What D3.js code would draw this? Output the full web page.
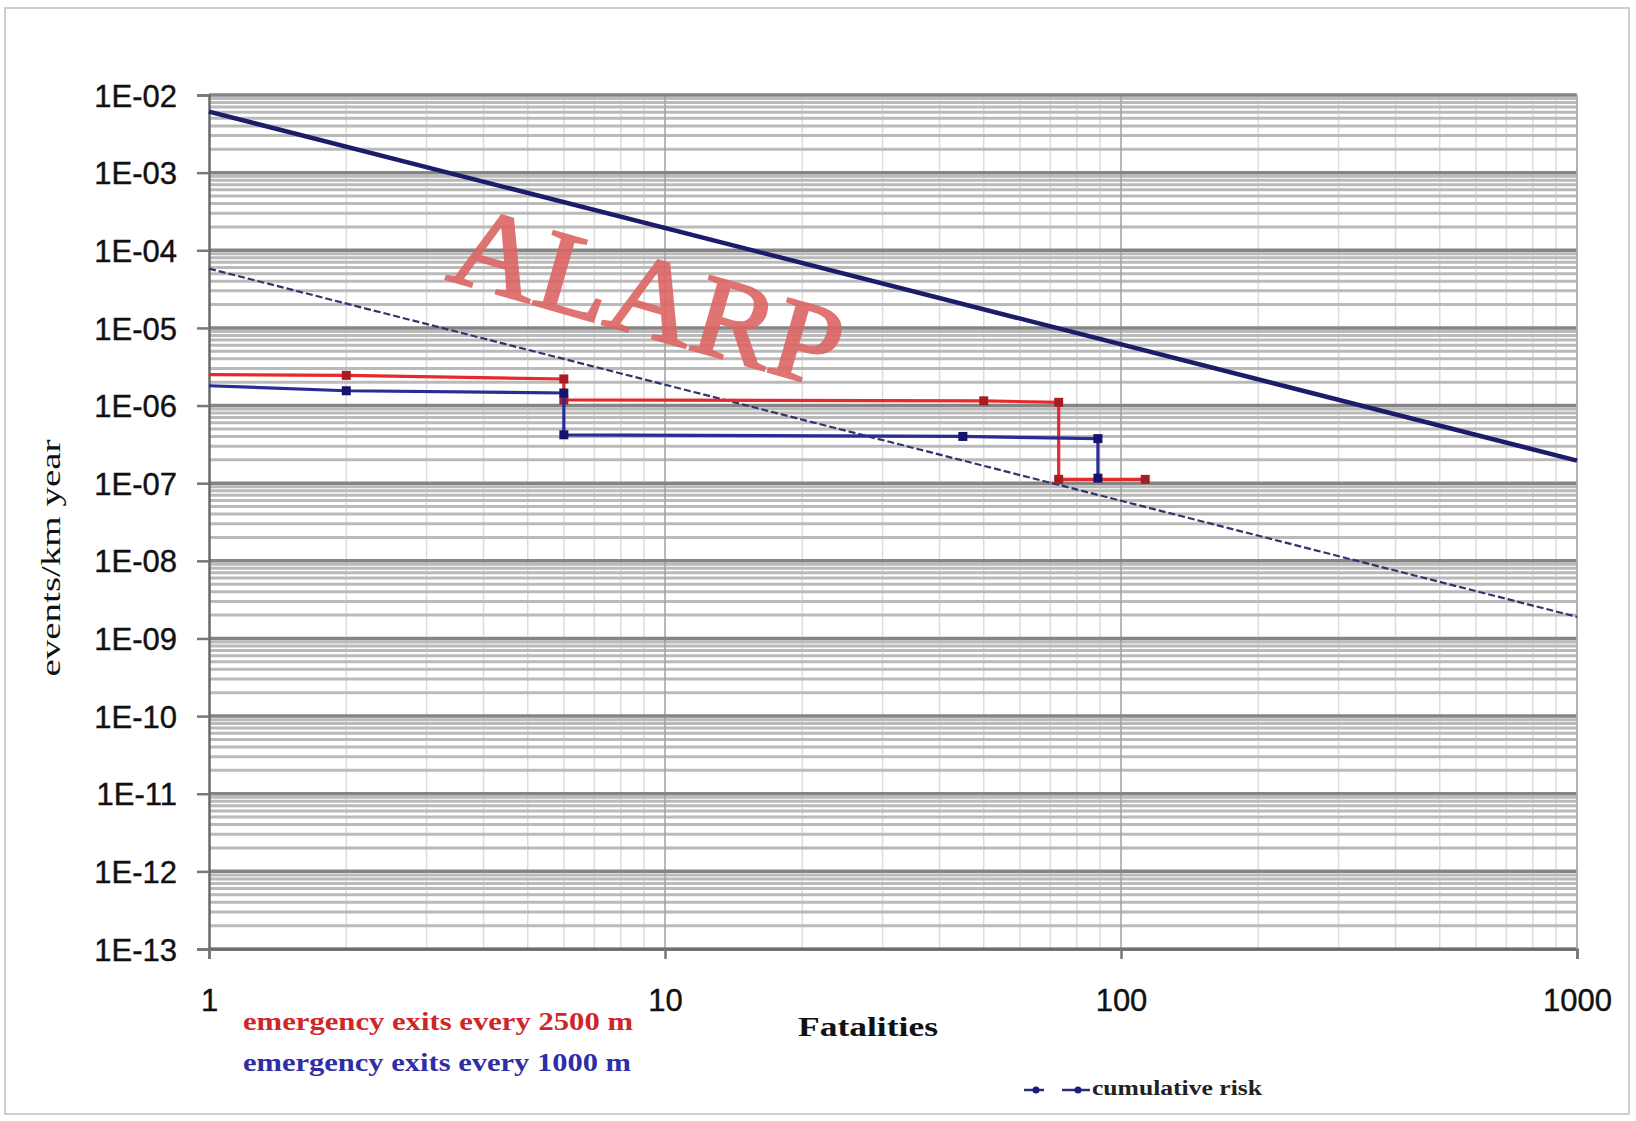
<!DOCTYPE html>
<html>
<head>
<meta charset="utf-8">
<script src="https://cdn.jsdelivr.net/npm/d3@7"></script>
<style>
body { margin: 0; background: #fff; }
svg { display: block; }
</style>
</head>
<body>
<div id="grafika"></div>
<script>
// values
const xTicks = [1, 10, 100, 1000];
const yTicks = [1e-2, 1e-3, 1e-4, 1e-5, 1e-6, 1e-7, 1e-8, 1e-9, 1e-10, 1e-11, 1e-12, 1e-13];
const yTickLabels = ["1E-02", "1E-03", "1E-04", "1E-05", "1E-06", "1E-07", "1E-08",
                     "1E-09", "1E-10", "1E-11", "1E-12", "1E-13"];

// ALARP limits (end points)
const upperN = [1, 1000];
const upperF = [6.1e-3, 1.95e-7];
const lowerN = [1, 1000];
const lowerF = [5.8e-5, 1.9e-9];

// emergency exits every 2500 m
const exits2500N = [1, 2, 6, 6, 50, 73, 73, 113];
const exits2500F = [2.5e-6, 2.45e-6, 2.2e-6, 1.18e-6, 1.15e-6, 1.1e-6, 1.12e-7, 1.12e-7];
// emergency exits every 1000 m
const exits1000N = [1, 2, 6, 6, 45, 89, 89];
const exits1000F = [1.8e-6, 1.55e-6, 1.45e-6, 4.2e-7, 4.0e-7, 3.75e-7, 1.16e-7];

const W = 1636, H = 1121;
const margins = { top: 95, right: 59, bottom: 172, left: 209 };
const plotW = W - margins.left - margins.right;
const plotB = H - margins.bottom;

const x_scale = d3.scaleLog().domain([1, 1000]).range([margins.left, margins.left + plotW]);
const y_scale = d3.scaleLog().domain([1e-13, 1e-2]).range([plotB, margins.top]);

const zip = (a, b) => a.map((v, i) => [v, b[i]]);
const line = d3.line().x(d => x_scale(d[0])).y(d => y_scale(d[1]));

const svg = d3.select("#grafika").append("svg")
	.attr("width", W).attr("height", H);

// outer frame
svg.append("rect")
	.attr("x", 5).attr("y", 8).attr("width", 1624).attr("height", 1106)
	.attr("fill", "none").attr("stroke", "#cfcfcf").attr("stroke-width", 2);

// minor grid values
const yMinor = [];
yTicks.slice(1).forEach(d => { for (let k = 2; k <= 9; k++) yMinor.push(k * d); });
const xMinor = [];
xTicks.slice(0, 3).forEach(d => { for (let k = 2; k <= 9; k++) xMinor.push(k * d); });

const grid = svg.append("g").attr("class", "grid");
grid.selectAll(".vminor").data(xMinor).enter().append("line")
	.attr("x1", d => x_scale(d)).attr("x2", d => x_scale(d))
	.attr("y1", margins.top).attr("y2", plotB)
	.attr("stroke", "#dcdcdc").attr("stroke-width", 1.5);
grid.selectAll(".hminor").data(yMinor).enter().append("line")
	.attr("x1", margins.left).attr("x2", margins.left + plotW)
	.attr("y1", d => y_scale(d)).attr("y2", d => y_scale(d))
	.attr("stroke", "#bababa").attr("stroke-width", 3);
grid.selectAll(".vmajor").data(xTicks.slice(1)).enter().append("line")
	.attr("x1", d => x_scale(d)).attr("x2", d => x_scale(d))
	.attr("y1", margins.top).attr("y2", plotB)
	.attr("stroke", "#a0a0a0").attr("stroke-width", 1.5);
grid.selectAll(".hmajor").data(yTicks).enter().append("line")
	.attr("x1", margins.left).attr("x2", margins.left + plotW)
	.attr("y1", d => y_scale(d)).attr("y2", d => y_scale(d))
	.attr("stroke", "#858585").attr("stroke-width", 3.5);

// axes
const y_axis = d3.axisLeft(y_scale).tickValues(yTicks)
	.tickFormat((d, i) => yTickLabels[i]).tickSize(12).tickPadding(20);
const x_axis = d3.axisBottom(x_scale).tickValues(xTicks)
	.tickFormat(d3.format("d")).tickSize(10).tickPadding(30);

svg.append("g").attr("class", "y axis")
	.attr("transform", `translate(${margins.left},0)`)
	.call(y_axis);
svg.append("g").attr("class", "x axis")
	.attr("transform", `translate(0,${plotB})`)
	.call(x_axis);

svg.selectAll(".axis path, .axis line").attr("stroke", "#777").attr("stroke-width", 2.5);
svg.selectAll(".axis .domain").attr("stroke", "#6a6a6a");
svg.selectAll(".axis text")
	.attr("font-family", "'Liberation Sans', Arial, sans-serif")
	.attr("font-size", 31).attr("fill", "#111")
	.attr("stroke", "#111").attr("stroke-width", 0.4);
svg.select(".y.axis").selectAll("text").attr("dy", "0.36em");

// right edge of plot
svg.append("line")
	.attr("x1", margins.left + plotW).attr("x2", margins.left + plotW)
	.attr("y1", margins.top).attr("y2", plotB)
	.attr("stroke", "#b0b0b0").attr("stroke-width", 1.5);

// ALARP watermark
svg.append("text")
	.attr("transform", "translate(637,334) rotate(16)")
	.attr("text-anchor", "middle")
	.attr("font-family", "'Liberation Serif', 'Times New Roman', serif")
	.attr("font-size", 116)
	.attr("textLength", 400).attr("lengthAdjust", "spacingAndGlyphs")
	.attr("fill", "#dc6664").attr("stroke", "#dc6664").attr("stroke-width", 2.5)
	.attr("opacity", 0.9)
	.text("ALARP");

// ALARP limit lines
svg.append("path").datum(zip(upperN, upperF))
	.attr("d", line).attr("fill", "none")
	.attr("stroke", "#1c1c6a").attr("stroke-width", 4.5);
svg.append("path").datum(zip(lowerN, lowerF))
	.attr("d", line).attr("fill", "none")
	.attr("stroke", "#33336e").attr("stroke-width", 2.2)
	.attr("stroke-dasharray", "7,3");

// step curves
const series = [
	{ pts: zip(exits2500N, exits2500F), color: "#e8292b", mark: "#a81c22" },
	{ pts: zip(exits1000N, exits1000F), color: "#2b2b94", mark: "#14146c" }
];
series.forEach(s => {
	svg.append("path").datum(s.pts)
		.attr("d", line).attr("fill", "none")
		.attr("stroke", s.color).attr("stroke-width", 3.2);
	svg.selectAll(null).data(s.pts.slice(1)).enter().append("rect")
		.attr("x", d => x_scale(d[0]) - 4.5).attr("y", d => y_scale(d[1]) - 4.5)
		.attr("width", 9).attr("height", 9)
		.attr("fill", s.mark);
});

// axis titles
svg.append("text")
	.attr("transform", "translate(60,558) rotate(-90)")
	.attr("text-anchor", "middle")
	.attr("font-family", "'Liberation Serif', 'Times New Roman', serif")
	.attr("font-size", 27)
	.attr("textLength", 237).attr("lengthAdjust", "spacingAndGlyphs")
	.attr("fill", "#111")
	.text("events/km year");
svg.append("text")
	.attr("x", 868).attr("y", 1036)
	.attr("text-anchor", "middle")
	.attr("font-family", "'Liberation Serif', 'Times New Roman', serif")
	.attr("font-weight", "bold").attr("font-size", 27)
	.attr("textLength", 140).attr("lengthAdjust", "spacingAndGlyphs")
	.attr("fill", "#111")
	.text("Fatalities");

// legend
svg.append("text")
	.attr("x", 243).attr("y", 1030)
	.attr("font-family", "'Liberation Serif', 'Times New Roman', serif")
	.attr("font-weight", "bold").attr("font-size", 25)
	.attr("textLength", 390).attr("lengthAdjust", "spacingAndGlyphs")
	.attr("fill", "#d0262a")
	.text("emergency exits every 2500 m");
svg.append("text")
	.attr("x", 243).attr("y", 1071)
	.attr("font-family", "'Liberation Serif', 'Times New Roman', serif")
	.attr("font-weight", "bold").attr("font-size", 25)
	.attr("textLength", 388).attr("lengthAdjust", "spacingAndGlyphs")
	.attr("fill", "#2e2ea6")
	.text("emergency exits every 1000 m");

const leg = svg.append("g").attr("transform", "translate(1024,1090)");
[[0, 20], [38, 66]].forEach(seg => {
	leg.append("line").attr("x1", seg[0]).attr("x2", seg[1]).attr("y1", 0).attr("y2", 0)
		.attr("stroke", "#2c2c7a").attr("stroke-width", 2.5);
	leg.append("circle").attr("cx", (seg[0] + seg[1]) / 2 + 2).attr("cy", 0).attr("r", 3.5)
		.attr("fill", "#1a1a80");
});
leg.append("text")
	.attr("x", 68).attr("y", 5)
	.attr("font-family", "'Liberation Serif', 'Times New Roman', serif")
	.attr("font-weight", "bold").attr("font-size", 20)
	.attr("textLength", 170).attr("lengthAdjust", "spacingAndGlyphs")
	.attr("fill", "#222")
	.text("cumulative risk");
</script>
</body>
</html>
